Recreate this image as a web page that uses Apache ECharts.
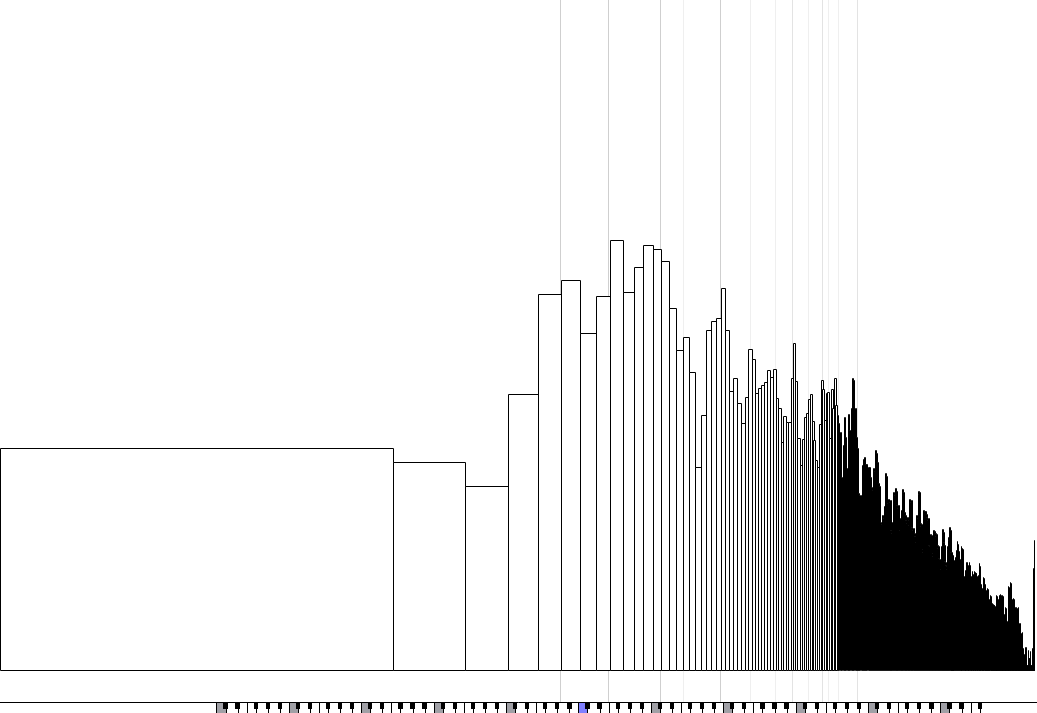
<!DOCTYPE html>
<html>
<head>
<meta charset="utf-8">
<title>Spectrum</title>
<script src="https://cdn.jsdelivr.net/npm/echarts@6/dist/echarts.min.js"></script>
<style>
  html, body { margin: 0; padding: 0; background: #fff; }
  #chart { width: 1037px; height: 713px; }
</style>
</head>
<body>
<div id="chart"></div>
<script>
// analyser settings: one bar per FFT bin
var sampleRate = 44100;
var fftSize = 1024;
var binHz = sampleRate / fftSize;

// level of each bin, bin 0 is DC
var levels = [
  222, 208, 184, 276, 376, 390, 337, 374, 430, 378, 403, 425, 421, 409, 362, 320, 333, 298, 203, 255, // 0
  340, 349, 352, 382, 340, 279, 292, 267, 247, 273, 321, 311, 277, 282, 285, 288, 300, 293, 301, 272, // 20
  262, 228, 254, 248, 248, 292, 327, 289, 232, 205, 231, 253, 257, 271, 276, 249, 230, 210, 203, 246, // 40
  290, 281, 250, 277, 278, 232, 281, 262, 292, 265, 255, 247, 238, 193, 225, 253, 233, 202, 256, 240, // 60
  262, 292, 290, 262, 233, 222, 177, 175, 175, 205, 211, 213, 206, 206, 203, 203, 193, 183, 180, 202, // 80
  199, 220, 217, 208, 187, 184, 148, 146, 155, 152, 164, 197, 194, 167, 171, 168, 170, 140, 137, 148, // 100
  178, 175, 182, 179, 165, 162, 165, 140, 152, 149, 160, 181, 178, 158, 155, 150, 147, 153, 150, 145, // 120
  171, 168, 170, 143, 140, 142, 137, 134, 128, 125, 155, 152, 179, 176, 178, 147, 144, 146, 121, 118, // 140
  160, 157, 159, 159, 156, 153, 150, 152, 125, 122, 124, 136, 133, 135, 117, 114, 140, 137, 139, 137, // 160
  134, 136, 125, 122, 124, 112, 109, 111, 101, 98, 124, 121, 141, 138, 128, 125, 109, 108, 105, 104, // 180
  101, 124, 121, 133, 130, 143, 140, 118, 115, 116, 113, 118, 115, 113, 110, 110, 107, 113, 110, 120, // 200
  117, 119, 129, 126, 122, 119, 95, 92, 111, 108, 124, 121, 122, 119, 121, 97, 94, 83, 80, 100, // 220
  97, 108, 105, 107, 108, 105, 86, 83, 85, 108, 105, 95, 92, 94, 91, 93, 99, 96, 94, 91, // 240
  93, 99, 96, 98, 95, 97, 97, 94, 91, 88, 90, 95, 92, 94, 107, 104, 87, 84, 86, 83, // 260
  80, 82, 75, 72, 93, 90, 92, 87, 84, 86, 81, 78, 80, 75, 72, 74, 82, 79, 81, 73, // 280
  70, 71, 68, 70, 75, 72, 74, 68, 65, 67, 60, 57, 59, 66, 63, 65, 65, 62, 64, 63, // 300
  60, 62, 75, 72, 74, 71, 72, 69, 71, 68, 65, 67, 75, 72, 74, 76, 73, 75, 43, 40, // 320
  42, 41, 75, 72, 74, 57, 54, 56, 53, 50, 52, 51, 63, 60, 62, 50, 47, 49, 48, 57, // 340
  54, 56, 84, 81, 83, 82, 87, 84, 86, 88, 85, 87, 86, 71, 68, 70, 63, 60, 62, 61, // 360
  72, 69, 71, 70, 58, 55, 57, 63, 60, 62, 61, 63, 59, 62, 60, 63, 58, 61, 62, 47, // 380
  44, 46, 45, 47, 43, 46, 44, 37, 34, 36, 35, 38, 35, 37, 36, 22, 19, 21, 20, 16, // 400
  13, 15, 14, 23, 20, 22, 21, 23, 19, 22, 20, 5, 3, 4, 5, 20, 17, 19, 18, 12, // 420
  9, 11, 10, 12, 19, 16, 18, 17, 5, 3, 4, 5, 22, 19, 21, 20, 8, 6, 7, 102, // 440
  98, 130, 126, 128, 0, 0, 0, 0, 0, 0, 0, 0, 0, 0, 0, 0 // 460
];

// pitch markers in Hz, strength 1 (faint) to 3 (strong)
var markerHz = [214, 338, 556, 693, 989, 1318, 1674, 1969, 2296, 2625, 2780, 3042, 3671];
var markerStrength = [3, 3, 3, 1, 3, 1, 1, 2, 1, 2, 1, 1, 2];

// keyboard range, MIDI numbers
var firstNote = 0;
var lastNote = 127;
var middleC = 60;

var freqMin = 1;
var freqMax = 20500;
var levelMin = -32;
var levelMax = 670;

var shade = { 1: '#efefef', 2: '#e3e3e3', 3: '#cfcfcf' };
var blackPitch = [1, 3, 6, 8, 10];

function noteHz(n) {
  return 440 * Math.pow(2, (n - 69) / 12);
}
function isBlack(n) {
  return blackPitch.indexOf(((n % 12) + 12) % 12) >= 0;
}

var bars = levels.map(function (v, k) {
  return [k === 0 ? freqMin : k * binHz, (k + 1) * binHz, v];
});
var markers = markerHz.map(function (f, i) {
  return [f, markerStrength[i]];
});
var whiteKeys = [], blackKeys = [];
for (var n = firstNote; n <= lastNote; n++) {
  (isBlack(n) ? blackKeys : whiteKeys).push([noteHz(n), n]);
}

function px(api, hz) {
  return api.coord([hz, 0])[0];
}

// wide bars snap both edges; narrow bars round their width on its own,
// which turns them solid black and leaves the odd white gap
function renderBar(params, api) {
  var a = api.coord([api.value(0), api.value(2)]);
  var b = api.coord([api.value(1), 0]);
  var x0 = Math.round(a[0]);
  var w = b[0] - a[0];
  var wr = w >= 2 ? Math.round(b[0]) - x0 : Math.round(w);
  var y0 = Math.round(a[1]) + 0.5, y1 = Math.round(b[1]) + 0.5;
  return {
    type: 'rect',
    shape: { x: x0 + 0.5, y: y0, width: wr, height: y1 - y0 },
    style: { fill: '#fff', stroke: '#000', lineWidth: 1 }
  };
}

function renderMarker(params, api) {
  var x = Math.round(px(api, api.value(0))) + 0.5;
  var cs = params.coordSys;
  return {
    type: 'line',
    shape: { x1: x, y1: cs.y, x2: x, y2: cs.y + cs.height },
    style: { stroke: shade[api.value(1)], lineWidth: 1 }
  };
}

function renderWhiteKey(params, api) {
  var n = api.value(1);
  var left = isBlack(n - 1) ? n - 1 : n - 0.5;
  var right = isBlack(n + 1) ? n + 1 : n + 0.5;
  var x0 = Math.round(px(api, noteHz(left)));
  var x1 = Math.round(px(api, noteHz(right)));
  var cs = params.coordSys;
  var top = cs.y + cs.height + 1;
  var h = 10;
  var fill = '#fff';
  if (n % 12 === 0) fill = n === middleC ? '#8080ff' : '#a0a0a6';
  return {
    type: 'group',
    children: [
      { type: 'rect', shape: { x: x0, y: top, width: x1 - x0, height: h }, style: { fill: fill } },
      { type: 'line', shape: { x1: x0 + 0.5, y1: top, x2: x0 + 0.5, y2: top + h }, style: { stroke: '#000', lineWidth: 1 } }
    ]
  };
}

function renderBlackKey(params, api) {
  var n = api.value(1);
  var x0 = Math.round(px(api, noteHz(n - 0.35)));
  var x1 = Math.round(px(api, noteHz(n + 0.35)));
  var cs = params.coordSys;
  var top = cs.y + cs.height + 1;
  return {
    type: 'rect',
    shape: { x: x0, y: top, width: Math.max(x1 - x0, 4), height: 6 },
    style: { fill: '#000' }
  };
}

var chart = echarts.init(document.getElementById('chart'));
chart.setOption({
  animation: false,
  backgroundColor: '#fff',
  grid: { left: 0, right: 0, top: 0, bottom: 11, outerBoundsMode: 'none' },
  xAxis: {
    type: 'log',
    logBase: 10,
    min: freqMin,
    max: freqMax,
    axisLine: { show: true, onZero: false, lineStyle: { color: '#000', width: 1 } },
    axisTick: { show: false },
    axisLabel: { show: false },
    splitLine: { show: false }
  },
  yAxis: {
    type: 'value',
    min: levelMin,
    max: levelMax,
    show: false,
    splitLine: { show: false }
  },
  series: [
    {
      type: 'custom',
      z: 1,
      silent: true,
      renderItem: renderMarker,
      encode: { x: 0, y: 1 },
      data: markers
    },
    {
      type: 'custom',
      z: 2,
      silent: true,
      renderItem: renderBar,
      encode: { x: [0, 1], y: 2 },
      data: bars
    },
    {
      type: 'custom',
      z: 3,
      silent: true,
      renderItem: renderWhiteKey,
      encode: { x: 0, y: 1 },
      data: whiteKeys
    },
    {
      type: 'custom',
      z: 4,
      silent: true,
      renderItem: renderBlackKey,
      encode: { x: 0, y: 1 },
      data: blackKeys
    }
  ]
});
</script>
</body>
</html>
